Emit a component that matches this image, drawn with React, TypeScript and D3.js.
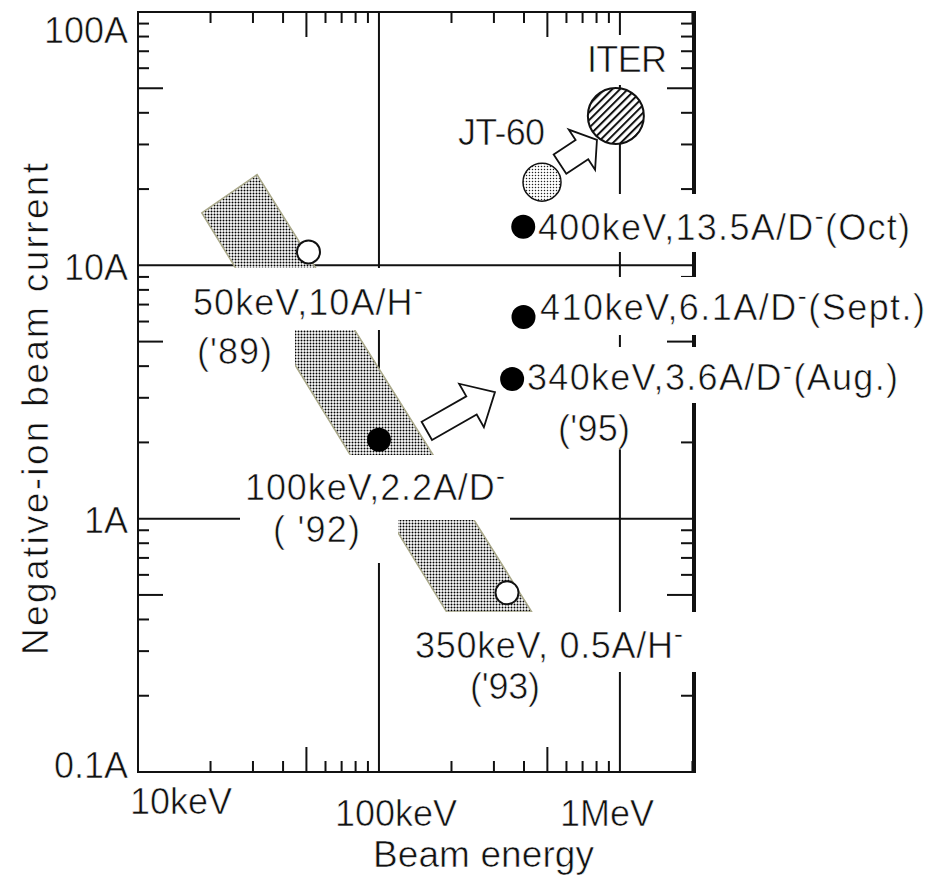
import React, { useRef, useEffect } from "react";
import * as d3 from "d3";

// filled points: D- beams (keV, A)
const solidEnergy = [397, 398, 357, 100];
const solidCurrent = [14.2, 6.25, 3.56, 2.05];

// open points: H- beams
const openEnergy = [51, 340];
const openCurrent = [11.3, 0.51];

// shaded band corners
const bandEnergy = [18.4, 31.2, 431, 191];
const bandCurrent = [16.1, 22.8, 0.428, 0.428];

// target machines
const targetNames = ["JT-60", "ITER"];
const targetEnergy = [475, 962];
const targetCurrent = [21.3, 38.9];

// block arrows, tail -> tip
const arrowTailEnergy = [158, 564];
const arrowTailCurrent = [2.22, 25.1];
const arrowTipEnergy = [303, 803];
const arrowTipCurrent = [3.16, 31.3];

const xTickValues = [10, 100, 1000];
const xTickLabels = ["10keV", "100keV", "1MeV"];
const yTickValues = [100, 10, 1, 0.1];
const yTickLabels = ["100A", "10A", "1A", "0.1A"];

// layout of the annotations (pixels)
const labelLayout = [
  { text: "ITER", x: 587, y: 72, w: 80, box: [582, 35, 672, 85] },
  { text: "JT-60", x: 458, y: 145, w: 87, box: null },
  { text: "400keV,13.5A/D⁻(Oct)", x: 538, y: 240, w: 372, box: [534, 194, 931, 252] },
  { text: "410keV,6.1A/D⁻(Sept.)", x: 540, y: 320, w: 385, box: [535, 277, 931, 335] },
  { text: "340keV,3.6A/D⁻(Aug.)", x: 527, y: 390, w: 371, box: [523, 347, 931, 403] },
  { text: "('95)", x: 558, y: 441, w: 72, box: [553, 403, 635, 448] },
  { text: "50keV,10A/H⁻", x: 193, y: 315, w: 230, box: [185, 268, 430, 330] },
  { text: "('89)", x: 197, y: 364, w: 75, box: [185, 330, 295, 368] },
  { text: "100keV,2.2A/D⁻", x: 245, y: 500, w: 260, box: [240, 455, 510, 520] },
  { text: "( '92)", x: 273, y: 542, w: 87, box: [265, 520, 398, 563] },
  { text: "350keV, 0.5A/H⁻", x: 415, y: 658, w: 268, box: [408, 612, 700, 672] },
  { text: "('93)", x: 470, y: 699, w: 70, box: [462, 672, 548, 706] },
];
const arrowSizes = [
  { sw: 21, hw: 50, hl: 27 },
  { sw: 23, hw: 48, hl: 18 },
];

const FONT = "'Liberation Sans', Arial, Helvetica, sans-serif";

function addText(g, str, x, y, size, w, anchor = "start") {
  const t = g
    .append("text")
    .attr("x", x)
    .attr("y", y)
    .attr("font-size", size)
    .attr("font-family", FONT)
    .attr("text-anchor", anchor)
    .attr("fill", "#111")
    .attr("stroke", "#fff")
    .attr("stroke-width", 0.6);
  const parts = str.split("⁻");
  parts.forEach((p, i) => {
    if (i > 0) {
      t.append("tspan").attr("font-size", 28).attr("dy", -15).text("-");
    }
    t.append("tspan").attr("dy", i > 0 ? 15 : 0).text(p);
  });
  if (w) t.attr("textLength", w).attr("lengthAdjust", "spacing");
  return t;
}

function App() {
  const svgRef = useRef(null);

  useEffect(() => {
    const W = 931;
    const H = 877;
    const left = 138, right = 694, top = 12, bottom = 772;

    const svg = d3.select(svgRef.current);
    svg.selectAll("*").remove();
    svg.attr("width", W).attr("height", H);

    const x = d3.scaleLog().domain([10, 2030]).range([left, right]);
    const y = d3.scaleLog().domain([0.1, 100]).range([bottom, top]);

    // patterns
    const defs = svg.append("defs");
    const dots = defs
      .append("pattern")
      .attr("id", "dots")
      .attr("patternUnits", "userSpaceOnUse")
      .attr("width", 3)
      .attr("height", 3);
    dots.append("rect").attr("width", 3).attr("height", 3).attr("fill", "#fff");
    dots.append("circle").attr("cx", 1.5).attr("cy", 1.5).attr("r", 1.0).attr("fill", "#000");

    const fine = defs
      .append("pattern")
      .attr("id", "fine")
      .attr("patternUnits", "userSpaceOnUse")
      .attr("width", 3)
      .attr("height", 3);
    fine.append("rect").attr("width", 3).attr("height", 3).attr("fill", "#fff");
    fine.append("circle").attr("cx", 1.5).attr("cy", 1.5).attr("r", 0.75).attr("fill", "#222");

    const hatch = defs
      .append("pattern")
      .attr("id", "hatch")
      .attr("patternUnits", "userSpaceOnUse")
      .attr("width", 5.5)
      .attr("height", 5.5)
      .attr("patternTransform", "rotate(45)");
    hatch.append("rect").attr("width", 5.5).attr("height", 5.5).attr("fill", "#fff");
    hatch.append("rect").attr("width", 2.0).attr("height", 5.5).attr("fill", "#111");

    svg.append("rect").attr("width", W).attr("height", H).attr("fill", "#fff");

    const g = svg.append("g");

    // grid lines at the decades
    xTickValues
      .filter((v) => v > 10)
      .forEach((v) => {
        g.append("line")
          .attr("x1", x(v)).attr("x2", x(v))
          .attr("y1", top).attr("y2", bottom)
          .attr("stroke", "#111").attr("stroke-width", 2);
      });
    yTickValues
      .filter((v) => v > 0.1 && v < 100)
      .forEach((v) => {
        g.append("line")
          .attr("x1", left).attr("x2", right)
          .attr("y1", y(v)).attr("y2", y(v))
          .attr("stroke", "#111").attr("stroke-width", 2);
      });

    // minor ticks (inward, all four sides)
    const mant = (v) => Math.round(v / Math.pow(10, Math.floor(Math.log10(v) + 1e-9)));
    const tickLen = (v) => (mant(v) === 5 ? 25 : 11);
    x.ticks()
      .filter((v) => mant(v) !== 1 && v < 2030)
      .forEach((v) => {
        const L = tickLen(v);
        g.append("line").attr("x1", x(v)).attr("x2", x(v))
          .attr("y1", bottom).attr("y2", bottom - L)
          .attr("stroke", "#111").attr("stroke-width", 2);
        g.append("line").attr("x1", x(v)).attr("x2", x(v))
          .attr("y1", top).attr("y2", top + L)
          .attr("stroke", "#111").attr("stroke-width", 2);
      });
    y.ticks()
      .filter((v) => mant(v) !== 1)
      .forEach((v) => {
        const L = tickLen(v);
        g.append("line").attr("x1", left).attr("x2", left + L)
          .attr("y1", y(v)).attr("y2", y(v))
          .attr("stroke", "#111").attr("stroke-width", 2);
        g.append("line").attr("x1", right).attr("x2", right - L - 2)
          .attr("y1", y(v)).attr("y2", y(v))
          .attr("stroke", "#111").attr("stroke-width", 2);
      });

    // frame
    g.append("path")
      .attr("d", `M${right},${top}H${left}V${bottom}H${right}`)
      .attr("fill", "none").attr("stroke", "#111").attr("stroke-width", 2);
    g.append("line")
      .attr("x1", right).attr("x2", right).attr("y1", top - 1).attr("y2", bottom + 1)
      .attr("stroke", "#111").attr("stroke-width", 4);

    // shaded band
    const band = bandEnergy.map((e, i) => [x(e), y(bandCurrent[i])]);
    g.append("path")
      .attr("d", d3.line()(band) + "Z")
      .attr("fill", "url(#dots)")
      .attr("stroke", "#aaa98a")
      .attr("stroke-width", 1.5);

    // white boxes behind labels
    labelLayout.forEach((l) => {
      if (!l.box) return;
      const [x0, y0, x1, y1] = l.box;
      g.append("rect")
        .attr("x", x0).attr("y", y0)
        .attr("width", x1 - x0).attr("height", y1 - y0)
        .attr("fill", "#fff");
    });

    // target machines
    targetNames.forEach((n, i) => {
      g.append("circle")
        .attr("cx", x(targetEnergy[i]))
        .attr("cy", y(targetCurrent[i]))
        .attr("r", n === "ITER" ? 28 : 19)
        .attr("fill", n === "ITER" ? "url(#hatch)" : "url(#fine)")
        .attr("stroke", "#111")
        .attr("stroke-width", n === "ITER" ? 2 : 1.5);
    });

    // block arrows
    arrowTailEnergy.forEach((e, i) => {
      const t0 = [x(e), y(arrowTailCurrent[i])];
      const t1 = [x(arrowTipEnergy[i]), y(arrowTipCurrent[i])];
      const { sw, hw, hl } = arrowSizes[i];
      const dx = t1[0] - t0[0], dy = t1[1] - t0[1];
      const len = Math.hypot(dx, dy);
      const u = [dx / len, dy / len];
      const nv = [-u[1], u[0]];
      const b = [t1[0] - u[0] * hl, t1[1] - u[1] * hl];
      const pt = (p, k) => [p[0] + nv[0] * k, p[1] + nv[1] * k];
      const pts = [
        pt(t0, sw / 2), pt(b, sw / 2), pt(b, hw / 2), t1,
        pt(b, -hw / 2), pt(b, -sw / 2), pt(t0, -sw / 2),
      ];
      g.append("path")
        .attr("d", d3.line()(pts) + "Z")
        .attr("fill", "#fff")
        .attr("stroke", "#111")
        .attr("stroke-width", 1.8)
        .attr("stroke-linejoin", "miter");
    });

    // open points
    openEnergy.forEach((e, i) => {
      g.append("circle")
        .attr("cx", x(e)).attr("cy", y(openCurrent[i])).attr("r", 11.5)
        .attr("fill", "#fff").attr("stroke", "#111").attr("stroke-width", 2);
    });

    // filled points
    solidEnergy.forEach((e, i) => {
      g.append("circle")
        .attr("cx", x(e)).attr("cy", y(solidCurrent[i])).attr("r", 12)
        .attr("fill", "#000");
    });

    // annotation text
    labelLayout.forEach((l) => addText(g, l.text, l.x, l.y, 36, l.w));

    // tick labels
    const yLabelDy = [31, 15, 14, 6];
    yTickValues.forEach((v, i) => {
      addText(g, yTickLabels[i], 128, y(v) + yLabelDy[i], 36, null, "end");
    });
    const xLabelDx = [-8, -44, -60];
    const xLabelY = [814, 826, 826];
    xTickValues.forEach((v, i) => {
      addText(g, xTickLabels[i], x(v) + xLabelDx[i], xLabelY[i], 36, null, "start");
    });

    // axis titles
    addText(g, "Beam energy", 373, 867, 37, 221);
    g.append("text")
      .attr("transform", "translate(48,409) rotate(-90)")
      .attr("text-anchor", "middle")
      .attr("font-size", 37)
      .attr("font-family", FONT)
      .attr("fill", "#111")
      .attr("stroke", "#fff")
      .attr("stroke-width", 0.6)
      .attr("textLength", 492)
      .attr("lengthAdjust", "spacing")
      .text("Negative-ion beam current");
  }, []);

  return (
    <svg
      ref={svgRef}
      style={{ position: "absolute", left: 0, top: 0, display: "block" }}
    ></svg>
  );
}

export default App;
